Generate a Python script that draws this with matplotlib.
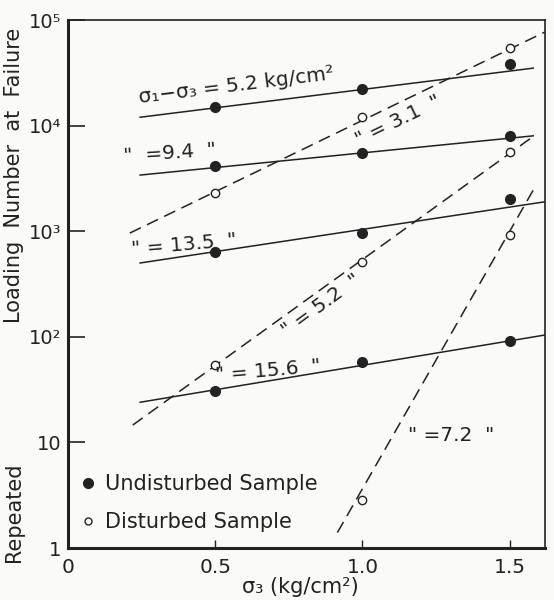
import matplotlib.pyplot as plt

# sigma_3 values where samples were tested
sigma3 = [0.5, 1.0, 1.5]

# undisturbed samples (filled circles), key = sigma1 - sigma3
und_labels = ["5.2", "9.4", "13.5", "15.6"]
und_points = [
    [1.5e4, 2.2e4, 3.8e4],
    [4.1e3, 5.5e3, 7.9e3],
    [630, 960, 2000],
    [31, 58, 91],
]
und_fit_x = [[0.245, 1.58], [0.245, 1.58], [0.245, 1.62], [0.245, 1.62]]
und_fit_y = [[1.2e4, 3.5e4], [3.4e3, 8.0e3], [500, 1900], [24, 104]]

# disturbed samples (open circles)
dis_labels = ["3.1", "5.2", "7.2"]
dis_x = [[0.5, 1.0, 1.5], [0.5, 1.0, 1.5], [1.0, 1.5]]
dis_points = [
    [2.3e3, 1.2e4, 5.4e4],
    [54, 510, 5600],
    [2.85, 920],
]
dis_fit_x = [[0.21, 1.62], [0.22, 1.58], [0.915, 1.58]]
dis_fit_y = [[960, 7.7e4], [14.6, 7.9e3], [1.4, 2450]]

xticks = [0, 0.5, 1.0, 1.5]
xtick_labels = ["0", "0.5", "1.0", "1.5"]
yticks = [1, 10, 1e2, 1e3, 1e4, 1e5]
ytick_labels = ["1", "10", "10²", "10³", "10⁴", "10⁵"]

plt.rcParams["font.family"] = "DejaVu Sans"
ink = "#222222"
bg = "#fafaf8"

fig = plt.figure(figsize=(5.54, 6), dpi=100, facecolor=bg)
ax = fig.add_axes([68 / 554, 52 / 600, 477 / 554, 528 / 600])
ax.set_facecolor(bg)
ax.set_yscale("log")
ax.set_xlim(0, 1.62)
ax.set_ylim(1, 1e5)

for fx, fy in zip(und_fit_x, und_fit_y):
    ax.plot(fx, fy, color=ink, lw=1.1)
for pts in und_points:
    ax.plot(sigma3, pts, "o", color=ink, ms=7, zorder=3)

for fx, fy in zip(dis_fit_x, dis_fit_y):
    ax.plot(fx, fy, color=ink, lw=1.1, dashes=(8, 4.5))
for xs, pts in zip(dis_x, dis_points):
    ax.plot(xs, pts, "o", mfc=bg, mec=ink, mew=1.0, ms=6, zorder=3)

# labels on the lines
fs = 14.5
ax.text(0.245, 1.5e4, "σ₁−σ₃ = " + und_labels[0] + " kg/cm²", fontsize=fs,
        rotation=7, color=ink, ha="left", va="bottom", rotation_mode="anchor")
ax.text(0.19, 4.1e3, '"  =' + und_labels[1] + '  "', fontsize=fs,
        rotation=4, color=ink, ha="left", va="bottom", rotation_mode="anchor")
ax.text(0.22, 540, '" = ' + und_labels[2] + '  "', fontsize=fs,
        rotation=5, color=ink, ha="left", va="bottom", rotation_mode="anchor")
ax.text(0.505, 35, '" = ' + und_labels[3] + '  "', fontsize=fs,
        rotation=5, color=ink, ha="left", va="bottom", rotation_mode="anchor")
ax.text(1.12, 1.1e4, '" = ' + dis_labels[0] + '  "', fontsize=fs,
        rotation=26, color=ink, ha="center", va="center", rotation_mode="anchor")
ax.text(0.86, 200, '" = ' + dis_labels[1] + '  "', fontsize=fs,
        rotation=36, color=ink, ha="center", va="center", rotation_mode="anchor")
ax.text(1.30, 11.7, '" =' + dis_labels[2] + '  "', fontsize=fs,
        color=ink, ha="center", va="center")

# legend
ax.plot([], [], "o", color=ink, ms=7, label="Undisturbed Sample")
ax.plot([], [], "o", mfc=bg, mec=ink, mew=1.0, ms=5, label="Disturbed Sample")
ax.legend(loc="lower left", bbox_to_anchor=(-0.01, -0.005), frameon=False,
          fontsize=15, handlelength=0.6, handletextpad=0.5, labelspacing=0.85,
          labelcolor=ink)

ax.set_xticks(xticks)
ax.set_xticklabels(xtick_labels)
ax.set_yticks(yticks)
ax.set_yticklabels(ytick_labels)
ax.minorticks_off()
ax.tick_params(axis="y", direction="in", length=12, width=1.2, labelsize=14,
               pad=5, colors=ink)
ax.tick_params(axis="x", direction="in", length=6, width=1.0, labelsize=14.5,
               pad=7, colors=ink)

for side in ["left", "bottom"]:
    ax.spines[side].set_linewidth(2.2)
for side in ["top", "right"]:
    ax.spines[side].set_linewidth(1.2)
for s in ax.spines.values():
    s.set_color(ink)

fig.text(300 / 554, 1 - 587 / 600, "σ₃ (kg/cm²)", fontsize=15, color=ink,
         ha="center", va="center")
fig.text(14 / 554, 1 - 512 / 600, "Repeated", fontsize=15, color=ink,
         rotation=90, ha="center", va="center")
fig.text(14 / 554, 1 - 175 / 600, "Loading  Number  at  Failure", fontsize=15,
         color=ink, rotation=90, ha="center", va="center")

fig.savefig("out.png", dpi=100, facecolor=fig.get_facecolor())
